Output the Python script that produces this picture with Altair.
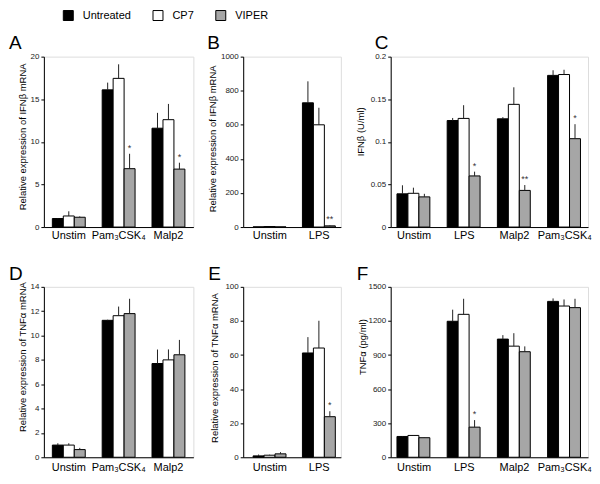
import altair as alt
import pandas as pd

treatments = ["Untreated", "CP7", "VIPER"]
bar_colors = ["black", "white", "#a6a6a6"]

# Panel A
A_groups = ["Unstim", "Pam₃CSK₄", "Malp2"]
A_untreated = [1.0, 16.1, 11.6]
A_untreated_err = [0.05, 0.85, 1.8]
A_cp7 = [1.3, 17.45, 12.6]
A_cp7_err = [0.55, 1.65, 1.85]
A_viper = [1.15, 6.85, 6.8]
A_viper_err = [0.1, 1.75, 0.75]
A_stars = ["", "*", "*"]

# Panel B
B_groups = ["Unstim", "LPS"]
B_untreated = [1, 729]
B_untreated_err = [0, 126]
B_cp7 = [3, 600]
B_cp7_err = [0, 100]
B_viper = [1, 7]
B_viper_err = [0, 3]
B_stars = ["", "**"]

# Panel C
C_groups = ["Unstim", "LPS", "Malp2", "Pam₃CSK₄"]
C_untreated = [0.039, 0.125, 0.127, 0.178]
C_untreated_err = [0.010, 0.003, 0.002, 0.006]
C_cp7 = [0.0396, 0.1275, 0.144, 0.179]
C_cp7_err = [0.0066, 0.0155, 0.020, 0.0056]
C_viper = [0.0354, 0.060, 0.043, 0.1037]
C_viper_err = [0.0036, 0.005, 0.0063, 0.017]
C_stars = ["", "*", "**", "*"]

# Panel D
D_groups = ["Unstim", "Pam₃CSK₄", "Malp2"]
D_untreated = [1.0, 11.25, 7.7]
D_untreated_err = [0.15, 0.05, 1.15]
D_cp7 = [1.0, 11.63, 8.0]
D_cp7_err = [0.15, 0.75, 0.86]
D_viper = [0.63, 11.8, 8.42]
D_viper_err = [0.14, 1.22, 1.22]
D_stars = ["", "", ""]

# Panel E
E_groups = ["Unstim", "LPS"]
E_untreated = [0.8, 61.2]
E_untreated_err = [0.8, 9.3]
E_cp7 = [1.2, 64.1]
E_cp7_err = [0.3, 16]
E_viper = [2.0, 23.8]
E_viper_err = [1.0, 3.2]
E_stars = ["", "*"]

# Panel F
F_groups = ["Unstim", "LPS", "Malp2", "Pam₃CSK₄"]
F_untreated = [183, 1197, 1040, 1372]
F_untreated_err = [4, 102, 35, 26]
F_cp7 = [192, 1258, 978, 1331]
F_cp7_err = [3, 137, 114, 58]
F_viper = [172, 265, 929, 1317]
F_viper_err = [3, 62, 47, 78]
F_stars = ["", "*", "", ""]

FONT = "Liberation Sans"


def frame(groups, vals, errs, stars):
    rows = []
    for gi, g in enumerate(groups):
        for ti, t in enumerate(treatments):
            v = vals[ti][gi]
            e = errs[ti][gi]
            s = stars[gi] if t == "VIPER" else ""
            rows.append({"group": g, "treatment": t, "value": v, "top": v + e, "star": s})
    return pd.DataFrame(rows)


def panel(letter, groups, vals, errs, stars, ydom, yvals, ytitle, fmt,
          width, pi, po, align, letter_dx, letter_dy, title_x, title_y, label_pad):
    df = frame(groups, vals, errs, stars)
    base = alt.Chart(df)
    X = alt.X("group:N", sort=groups,
              scale=alt.Scale(paddingInner=pi, paddingOuter=po, align=align),
              axis=alt.Axis(title=None, ticks=False, tickSize=0, labelAngle=0,
                            labelFontSize=11, labelColor="black", labelPadding=label_pad,
                            domainColor="black", labelFont=FONT, labelOverlap=False))
    XO = alt.XOffset("treatment:N", sort=treatments,
                     scale=alt.Scale(paddingInner=0, paddingOuter=0))
    yaxis = alt.Axis(title=ytitle, values=yvals, format=fmt, grid=False,
                     tickSize=3, tickColor="black", domainColor="black",
                     labelFontSize=8, labelColor="#222", labelPadding=2,
                     labelOverlap=False,
                     labelFont=FONT, titleFont=FONT, titleFontSize=9.5,
                     titleFontWeight="normal", titleColor="black",
                     titleX=title_x, titleY=title_y, titleAlign="center")
    yscale = alt.Scale(domain=ydom, nice=False, zero=True)

    def Y(field):
        return alt.Y(field, scale=yscale, axis=yaxis, title=ytitle)

    color = alt.Color("treatment:N",
                      scale=alt.Scale(domain=treatments, range=bar_colors),
                      legend=alt.Legend(orient="none", direction="horizontal",
                                        legendX=19, legendY=-47, title=None,
                                        symbolType="square", symbolSize=100,
                                        symbolStrokeColor="black", symbolStrokeWidth=1,
                                        labelFontSize=11, labelOffset=9,
                                        columnPadding=19, padding=0,
                                        labelFont=FONT, labelColor="black"))
    bars = base.mark_bar(stroke="black", strokeWidth=1).encode(
        x=X, xOffset=XO, y=Y("value:Q"), color=color)
    err = base.mark_rule(color="#222", strokeWidth=1).encode(
        x=X, xOffset=XO, y=Y("value:Q"), y2="top:Q")
    st = base.transform_filter(alt.datum.star != "").mark_text(
        baseline="bottom", dy=-1, fontSize=9, font=FONT, color="#333").encode(
        x=X, xOffset=XO, y=Y("top:Q"), text="star:N")
    lt = alt.Chart(pd.DataFrame({"t": [letter]})).mark_text(
        align="left", baseline="alphabetic", fontSize=19, font=FONT, color="black").encode(
        x=alt.value(letter_dx), y=alt.value(letter_dy), text="t:N")
    return alt.layer(bars, err, st, lt).properties(width=width, height=171)


W1, W2, W3 = 150, 98, 198

pA = panel("A", A_groups, [A_untreated, A_cp7, A_viper], [A_untreated_err, A_cp7_err, A_viper_err],
           A_stars, [0, 20], [0, 5, 10, 15, 20], "Relative expression of IFNβ mRNA", "d",
           W1, 0.34, 0.17, 0.5, -35, -8, -16, 80, 2)
pB = panel("B", B_groups, [B_untreated, B_cp7, B_viper], [B_untreated_err, B_cp7_err, B_viper_err],
           B_stars, [0, 1000], [0, 200, 400, 600, 800, 1000], "Relative expression of IFNβ mRNA", "d",
           W2, 0.32, 0.15, 0.67, -36, -8, -26, 82, 2)
pC = panel("C", C_groups, [C_untreated, C_cp7, C_viper], [C_untreated_err, C_cp7_err, C_viper_err],
           C_stars, [0, 0.2], [0, 0.05, 0.1, 0.15, 0.2], "IFNβ (U/ml)", "~g",
           W3, 0.32, 0.125, 0.5, -16, -8, -25, 75, 2)
pD = panel("D", D_groups, [D_untreated, D_cp7, D_viper], [D_untreated_err, D_cp7_err, D_viper_err],
           D_stars, [0, 14], [0, 2, 4, 6, 8, 10, 12, 14], "Relative expression of TNFα mRNA", "d",
           W1, 0.34, 0.17, 0.5, -35, -7, -16, 70, 4)
pE = panel("E", E_groups, [E_untreated, E_cp7, E_viper], [E_untreated_err, E_cp7_err, E_viper_err],
           E_stars, [0, 100], [0, 20, 40, 60, 80, 100], "Relative expression of TNFα mRNA", "d",
           W2, 0.32, 0.15, 0.67, -35, -7, -24, 81, 4)
pF = panel("F", F_groups, [F_untreated, F_cp7, F_viper], [F_untreated_err, F_cp7_err, F_viper_err],
           F_stars, [0, 1500], [0, 300, 600, 900, 1200, 1500], "TNFα (pg/ml)", "d",
           W3, 0.32, 0.125, 0.5, -34, -7, -23, 60, 4)

chart = alt.concat(pA, pB, pC, pD, pE, pF, columns=3,
                   spacing={"row": 60, "column": 50}, bounds="flush", align="each"
                   ).resolve_scale(color="shared").resolve_legend(color="shared").properties(
    padding={"left": 0, "top": 1, "right": 0, "bottom": 0}
).configure_view(stroke=None).configure(font=FONT)

chart.save("out.html", embed_options={"renderer": "svg", "actions": False})
